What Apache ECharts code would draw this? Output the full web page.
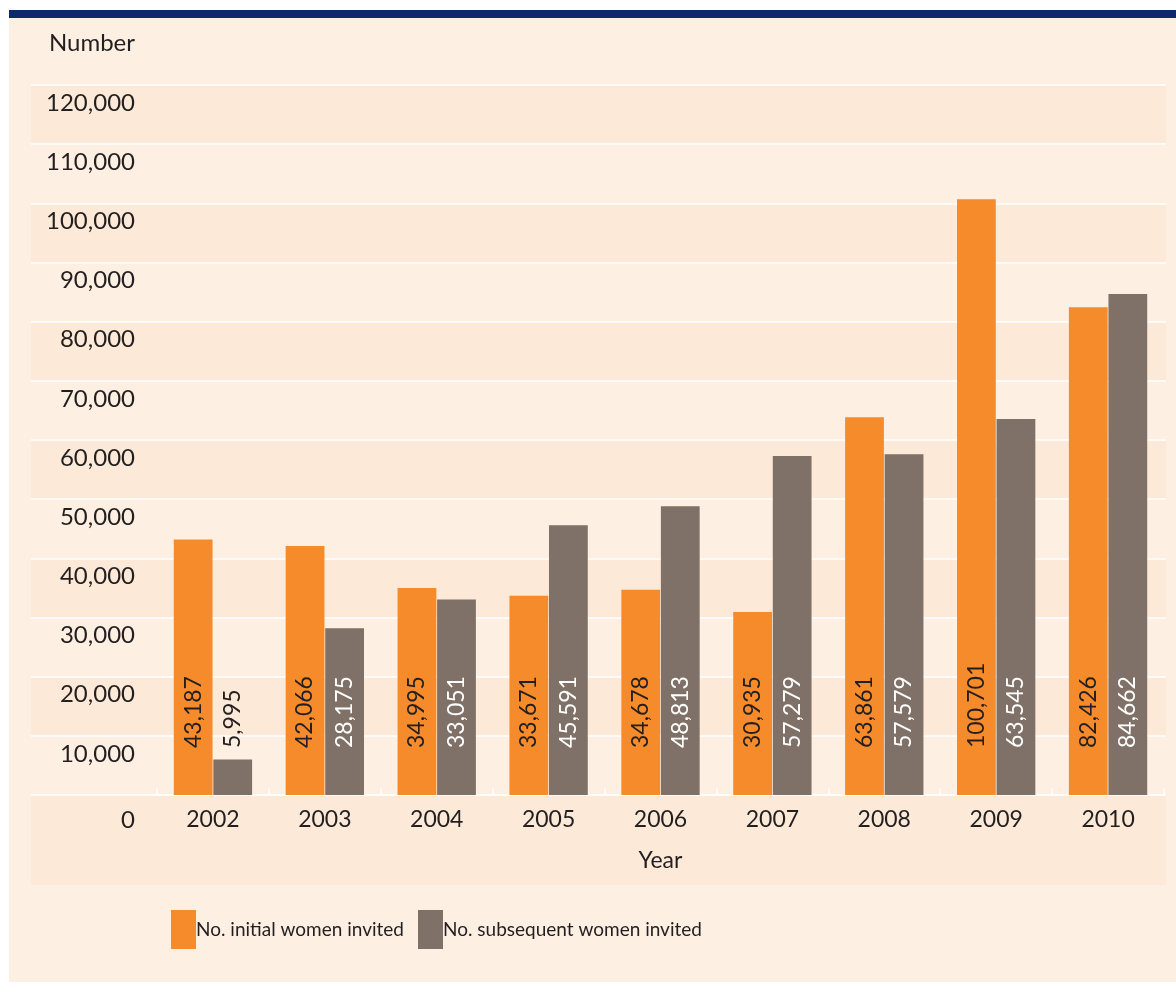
<!DOCTYPE html>
<html>
<head>
<meta charset="utf-8">
<script src="https://cdn.jsdelivr.net/npm/echarts@6/dist/echarts.min.js"></script>
<style>
html,body{margin:0;padding:0;background:#ffffff;}
#chart{width:1176px;height:982px;}
</style>
</head>
<body>
<div id="chart"></div>
<script>
const years = ['2002','2003','2004','2005','2006','2007','2008','2009','2010'];
const initialInvited = [43187, 42066, 34995, 33671, 34678, 30935, 63861, 100701, 82426];
const subsequentInvited = [5995, 28175, 33051, 45591, 48813, 57279, 57579, 63545, 84662];
const seriesNames = ['No. initial women invited', 'No. subsequent women invited'];
const yMax = 120000;
const yStep = 10000;

const FONT = 'Lato';
const TEXT = '#231f20';
const ORANGE = '#f58b2a';
const GREY = '#7f7167';
const LIGHT = '#fdefe2';
const DARK = '#fce9d7';

function fmt(v){ return v.toLocaleString('en-US'); }

function barData(values, insideColor){
  return values.map(v => ({
    value: v,
    label: { color: v < 20000 ? TEXT : insideColor }
  }));
}

const labelCfg = {
  show: true,
  position: 'insideBottom',
  distance: 47,
  rotate: 90,
  align: 'left',
  verticalAlign: 'middle',
  fontFamily: FONT,
  fontSize: 23,
  formatter: p => fmt(p.value)
};

const legendBase = {
  top: 905,
  itemWidth: 25, itemHeight: 39,
  icon: 'rect',
  textStyle: { fontFamily: FONT, fontSize: 19, color: TEXT, padding:[0,0,0,-5] }
};

const chart = echarts.init(document.getElementById('chart'), null, {renderer:'canvas'});
chart.setOption({
  animation: false,
  backgroundColor: '#ffffff',
  graphic: [
    { type:'rect', z:-10, shape:{x:9, y:10, width:1167, height:972}, style:{fill:LIGHT} },
    { type:'rect', z:-9, shape:{x:9, y:10, width:1167, height:8}, style:{fill:'#0b2a6a'} },
    { type:'rect', z:-9, shape:{x:31, y:795, width:1135, height:90}, style:{fill:DARK} }
  ],
  grid: [
    { left:157, right:12, top:85, bottom:187 },
    { left:31, right:10, top:85, bottom:187 }
  ],
  legend: [
    Object.assign({ left: 166, data: [seriesNames[0]] }, legendBase),
    Object.assign({ left: 413, data: [seriesNames[1]] }, legendBase)
  ],
  xAxis: [
    {
      type: 'category', gridIndex: 0, data: years,
      name: 'Year', nameLocation: 'middle', nameGap: 54,
      nameTextStyle: { fontFamily: FONT, fontSize: 23, color: TEXT },
      axisLine: { show: true, lineStyle: { color: '#ffffff', width: 1.5 } },
      axisTick: { show: true, inside: true, length: 7, lineStyle: { color: '#ffffff', width: 1.5 } },
      axisLabel: { fontFamily: FONT, fontSize: 23, color: TEXT, margin: 13 }
    },
    { type: 'value', gridIndex: 1, show: false }
  ],
  yAxis: [
    {
      type: 'value', gridIndex: 0, min: 0, max: yMax, interval: yStep,
      name: 'Number', nameLocation: 'end', nameGap: 30,
      nameTextStyle: { fontFamily: FONT, fontSize: 24, color: TEXT, align: 'right', padding:[0,22,0,0] },
      axisLine: { show: false }, axisTick: { show: false }, splitLine: { show: false },
      axisLabel: {
        fontFamily: FONT, fontSize: 24, color: TEXT, margin: 22,
        verticalAlign: 'top',
        formatter: v => v === 0 ? '{z|0}' : '{n|' + fmt(v) + '}',
        rich: {
          n: { fontFamily: FONT, fontSize: 24, color: TEXT, padding:[6,0,0,0] },
          z: { fontFamily: FONT, fontSize: 24, color: TEXT, padding:[13,0,0,0] }
        }
      }
    },
    {
      type: 'value', gridIndex: 1, min: 0, max: yMax, interval: yStep,
      axisLine: { show: false }, axisTick: { show: false }, axisLabel: { show: false },
      splitLine: { show: true, lineStyle: { color: '#ffffff', width: 1.5 } },
      splitArea: { show: true, areaStyle: { color: [LIGHT, DARK] } }
    }
  ],
  series: [
    {
      name: seriesNames[0], type: 'bar', xAxisIndex: 0, yAxisIndex: 0,
      data: barData(initialInvited, TEXT),
      itemStyle: { color: ORANGE },
      barCategoryGap: '30%', barGap: '2%',
      label: Object.assign({}, labelCfg, { color: TEXT })
    },
    {
      name: seriesNames[1], type: 'bar', xAxisIndex: 0, yAxisIndex: 0,
      data: barData(subsequentInvited, '#ffffff'),
      itemStyle: { color: GREY },
      barCategoryGap: '30%', barGap: '2%',
      label: Object.assign({}, labelCfg, { color: '#ffffff' })
    }
  ]
});
</script>
</body>
</html>
